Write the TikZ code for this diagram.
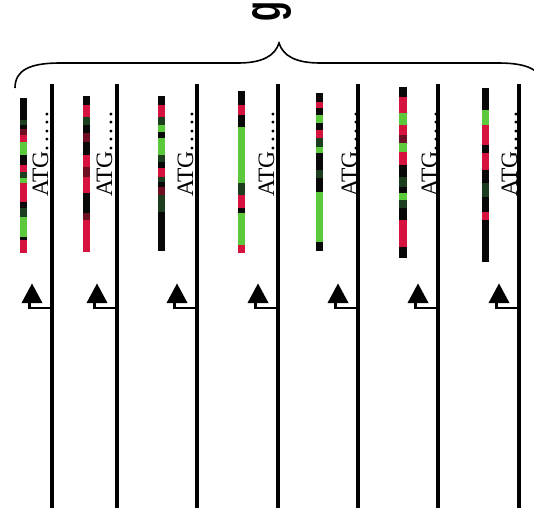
\documentclass[tikz,border=0pt]{standalone}
\usepackage{fontspec}
\usepackage{graphicx}
\setmainfont{Liberation Serif}
\newfontfamily\gfont{Liberation Sans}
\definecolor{hr}{RGB}{214,18,62}
\definecolor{hdr}{RGB}{110,14,34}
\definecolor{hg}{RGB}{92,200,60}
\definecolor{hdg}{RGB}{28,62,30}
\definecolor{hk}{RGB}{8,8,8}
\tikzset{
  chrom/.style={line width=3.8pt, black},
  bracepath/.style={line width=1.6pt, black},
  prom/.style={line width=2.6pt, black},
  atg/.style={rotate=90, anchor=base west, inner sep=0pt, font=\fontsize{23.5}{23.5}\selectfont},
}
\newcommand{\hmstrip}[3]{% x, width, list y1/y2/color
  \foreach \ya/\yb/\cc in {#3} {\fill[\cc] (#1,\ya) rectangle ({#1+#2},\yb);}
}
\newcommand{\atgtext}{ATG.\kern2.6pt.\kern2.6pt.\kern2.6pt.\kern2.6pt.}
\begin{document}
\begin{tikzpicture}[x=1pt,y=-1pt]
\useasboundingbox (0,0) rectangle (534,516);
\clip (0,0) rectangle (534,516);
% brace and label
\draw[bracepath] (15,88) .. controls (15,70) and (30,63) .. (60,63) -- (238,63)
  .. controls (262,63) and (275,56) .. (279,43)
  .. controls (283,56) and (296,63) .. (320,63) -- (498,63)
  .. controls (528,63) and (543,70) .. (543,88);
\node[inner sep=0pt] (glabel) at (272.5,12) {\resizebox*{39pt}{20pt}{\rotatebox{90}{\gfont\bfseries g}}};
% columns
\foreach \i/\lx/\tb in {1/52/48, 2/117/112, 3/197/193, 4/278/274, 5/358/357, 6/438/437, 7/519/517} {
  \draw[chrom] (\lx,84) -- (\lx,508);
  \node[atg] (t\i) at (\tb,197) {\atgtext};
  \fill (\lx-30.5,303) -- (\lx-20,283.5) -- (\lx-9.5,303) -- cycle;
  \draw[prom] (\lx-22.5,300) |- (\lx,308);
}
% heat map strips
\hmstrip{19.5}{7.5}{98/120/hk,120/125/hdg,125/129/hk,129/135/hdr,135/142/hr,142/155/hg,155/165/hk,165/172/hr,172/178/hdg,178/183/hg,183/202/hr,202/208/hk,208/217/hdg,217/237/hg,237/240/hk,240/253/hr}
\hmstrip{83}{6.5}{96/105/hk,105/117/hr,117/125/hdg,125/133/hk,133/142/hdr,142/155/hk,155/167/hr,167/177/hdr,177/193/hr,193/213/hk,213/220/hdr,220/252/hr}
\hmstrip{158}{7}{96/105/hk,105/117/hr,117/125/hdg,125/132/hg,132/138/hk,138/155/hg,155/162/hdg,162/168/hk,168/177/hr,177/182/hdg,182/187/hk,187/195/hdr,195/212/hdg,212/251/hk}
\hmstrip{238}{7}{91/105/hk,105/115/hr,115/127/hk,127/183/hg,183/195/hdg,195/208/hr,208/213/hk,213/245/hg,245/253/hr}
\hmstrip{316}{7}{93/102/hk,102/108/hr,108/115/hk,115/123/hg,123/130/hk,130/138/hr,138/147/hdg,147/153/hg,153/162/hk,162/170/hk,170/178/hdg,178/192/hk,192/242/hg,242/251/hk}
\hmstrip{399}{8}{87/97/hk,97/113/hr,113/125/hg,125/135/hr,135/143/hdr,143/152/hg,152/165/hr,165/177/hk,177/187/hdg,187/193/hk,193/200/hg,200/208/hdg,208/220/hk,220/247/hr,247/258/hk}
\hmstrip{482}{6.5}{88/110/hk,110/125/hg,125/145/hr,145/153/hk,153/170/hr,170/183/hk,183/197/hdg,197/212/hk,212/220/hr,220/262/hk}
\end{tikzpicture}
\end{document}
